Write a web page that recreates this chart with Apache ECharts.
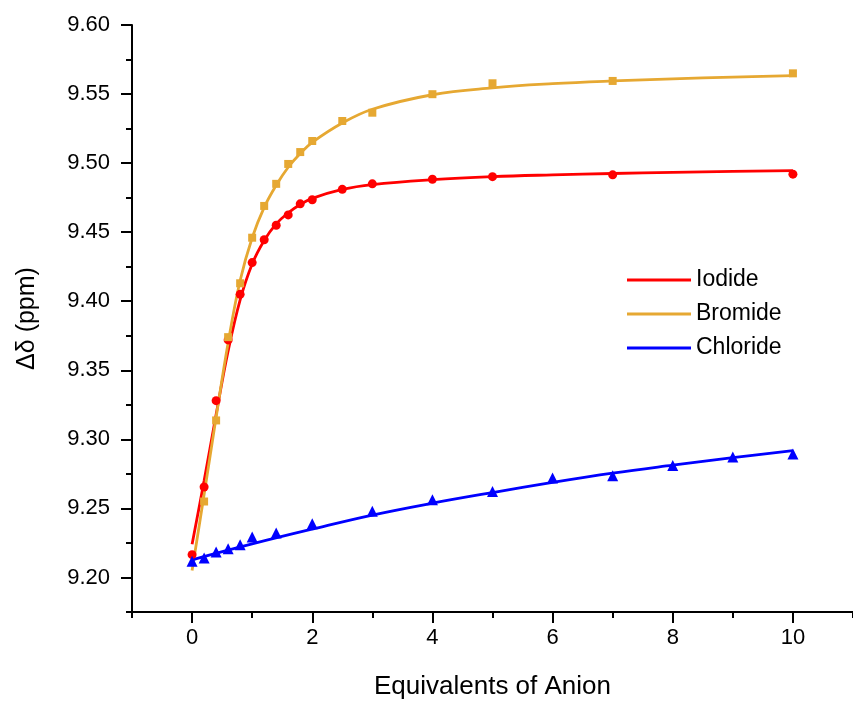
<!DOCTYPE html>
<html>
<head>
<meta charset="utf-8">
<script src="https://cdn.jsdelivr.net/npm/echarts@6/dist/echarts.min.js"></script>
<style>
  html, body { margin: 0; padding: 0; background: #fff; }
  #chart { width: 853px; height: 705px; }
</style>
</head>
<body>
<div id="chart"></div>
<script>
// Titration points (equivalents of anion added)
const eqAnion = [0, 0.2, 0.4, 0.6, 0.8, 1.0, 1.2, 1.4, 1.6, 1.8, 2.0, 2.5, 3, 4, 5, 7, 10];
const iodideObs  = [9.2165, 9.2655, 9.328, 9.372, 9.405, 9.428, 9.4445, 9.455, 9.4625, 9.4705, 9.4735, 9.481, 9.485, 9.4883, 9.4902, 9.4915, 9.492];
const bromideObs = ['-', 9.255, 9.3137, 9.374, 9.413, 9.446, 9.469, 9.485, 9.4994, 9.508, 9.516, 9.5305, 9.5365, 9.5499, 9.5578, 9.5595, 9.565];

const eqChloride = [0, 0.2, 0.4, 0.6, 0.8, 1.0, 1.4, 2, 3, 4, 5, 6, 7, 8, 9, 10];
const chlorideObs = [9.2117, 9.2141, 9.2185, 9.2208, 9.2237, 9.2293, 9.2322, 9.2389, 9.248, 9.2563, 9.2623, 9.272, 9.2737, 9.2811, 9.2872, 9.2894];

// Binding-isotherm fit curves
const fitEq = [0, 0.2, 0.4, 0.6, 0.8, 1.0, 1.2, 1.4, 1.6, 1.8, 2.0, 2.5, 3, 4, 5, 6, 7, 8, 9, 10];
const iodideFit  = [9.224, 9.270, 9.318, 9.364, 9.401, 9.427, 9.444, 9.456, 9.464, 9.470, 9.4745, 9.481, 9.4845, 9.488, 9.4902, 9.4915, 9.4925, 9.4933, 9.494, 9.4946];
const bromideFit = [9.205, 9.260, 9.316, 9.370, 9.415, 9.446, 9.468, 9.484, 9.497, 9.507, 9.515, 9.529, 9.539, 9.5495, 9.5545, 9.5575, 9.5595, 9.561, 9.5623, 9.5634];
const fitEqCl = [0, 1, 2, 3, 4, 5, 6, 7, 8, 9, 10];
const chlorideFit = [9.2128, 9.2243, 9.2350, 9.2452, 9.2538, 9.2615, 9.2688, 9.2755, 9.2813, 9.2868, 9.2918];

// Axis ticks
const xMajor = [0, 2, 4, 6, 8, 10];
const yMajor = [9.20, 9.25, 9.30, 9.35, 9.40, 9.45, 9.50, 9.55, 9.60];

const seriesNames = ['Iodide', 'Bromide', 'Chloride'];
const colors = ['#FF0000', '#E6A832', '#0000FF'];

const FONT = 'Liberation Sans, Arial, sans-serif';
const pair = (xs, ys) => xs.map((x, i) => [x, ys[i]]);

const X_MIN = -1, X_MAX = 11, Y_MIN = 9.175, Y_MAX = 9.60;
const gridBox = { left: 132, top: 25, right: -6, bottom: 93, containLabel: false };

const chart = echarts.init(document.getElementById('chart'), null, { renderer: 'canvas' });

const lineSeries = (name, xs, ys, color) => ({
  name, type: 'line', data: pair(xs, ys), smooth: 0.4,
  showSymbol: false, symbol: 'none', xAxisIndex: 0, yAxisIndex: 0,
  lineStyle: { color, width: 2.8 }, itemStyle: { color }, z: 2, animation: false
});
const dotSeries = (name, xs, ys, color, symbol, size) => ({
  name, type: 'scatter', data: pair(xs, ys), symbol, symbolSize: size,
  xAxisIndex: 0, yAxisIndex: 0, itemStyle: { color, opacity: 1 }, z: 3, animation: false
});

chart.setOption({
  backgroundColor: '#ffffff',
  animation: false,
  grid: [gridBox, gridBox],
  xAxis: [
    {
      type: 'value', gridIndex: 0, min: X_MIN, max: X_MAX,
      axisLine: { show: true, onZero: false, lineStyle: { color: '#000', width: 2 } },
      axisTick: { show: true, customValues: xMajor, length: 11, lineStyle: { color: '#000', width: 2 } },
      axisLabel: { show: true, customValues: xMajor, margin: 15, color: '#000', fontSize: 22, fontFamily: FONT },
      splitLine: { show: false },
      name: 'Equivalents of Anion', nameLocation: 'middle', nameGap: 62,
      nameTextStyle: { color: '#000', fontSize: 26, fontFamily: FONT }
    },
    {
      type: 'value', gridIndex: 1, min: X_MIN, max: X_MAX, interval: 1,
      axisLine: { show: false, onZero: false },
      axisTick: { show: true, length: 6, lineStyle: { color: '#000', width: 2 } },
      axisLabel: { show: false }, splitLine: { show: false }
    }
  ],
  yAxis: [
    {
      type: 'value', gridIndex: 0, min: Y_MIN, max: Y_MAX,
      axisLine: { show: true, onZero: false, lineStyle: { color: '#000', width: 2 } },
      axisTick: { show: true, customValues: yMajor, length: 11, lineStyle: { color: '#000', width: 2 } },
      axisLabel: { show: true, customValues: yMajor, margin: 22, color: '#000', fontSize: 22, fontFamily: FONT,
        formatter: v => v.toFixed(2) },
      splitLine: { show: false },
      name: 'Δδ (ppm)', nameLocation: 'middle', nameGap: 92, nameRotate: 90,
      nameTextStyle: { color: '#000', fontSize: 25, fontFamily: FONT }
    },
    {
      type: 'value', gridIndex: 1, min: Y_MIN, max: Y_MAX, interval: 0.025,
      axisLine: { show: false, onZero: false },
      axisTick: { show: true, length: 6, lineStyle: { color: '#000', width: 2 } },
      axisLabel: { show: false }, splitLine: { show: false }
    }
  ],
  legend: {
    data: seriesNames, orient: 'vertical', left: 627, top: 268, padding: 0,
    icon: 'rect', itemWidth: 64, itemHeight: 3, itemGap: 10,
    textStyle: { color: '#000', fontSize: 23, fontFamily: FONT, lineHeight: 24 },
    selectedMode: false
  },
  series: [
    lineSeries(seriesNames[0], fitEq, iodideFit, colors[0]),
    lineSeries(seriesNames[1], fitEq, bromideFit, colors[1]),
    lineSeries(seriesNames[2], fitEqCl, chlorideFit, colors[2]),
    dotSeries('Iodide points', eqAnion, iodideObs, colors[0], 'circle', 9),
    dotSeries('Bromide points', eqAnion, bromideObs, colors[1], 'rect', 8),
    dotSeries('Chloride points', eqChloride, chlorideObs, colors[2], 'triangle', 11)
  ]
});
</script>
</body>
</html>
